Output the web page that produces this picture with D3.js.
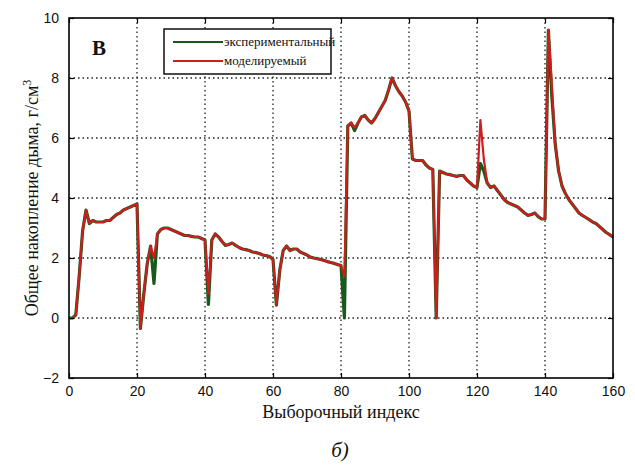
<!DOCTYPE html>
<html><head><meta charset="utf-8">
<script src="https://cdn.jsdelivr.net/npm/d3@7"></script>
<style>body{margin:0;background:#fff}svg{display:block}
.serif{font-family:"Liberation Serif","Times New Roman","DejaVu Serif",serif}
.sans{font-family:"Liberation Sans",Arial,Helvetica,sans-serif}
</style>
</head><body>
<script>
const sampleIndex = d3.range(0, 161);
const experimental = [
0,0,0.1,1.4,2.9,3.6,3.15,3.25,3.2,3.2,
3.2,3.25,3.25,3.35,3.45,3.5,3.6,3.65,3.7,3.75,
3.8,-0.35,0.8,1.8,2.4,1.15,2.8,2.95,3.0,3.0,
2.95,2.9,2.85,2.8,2.75,2.75,2.72,2.7,2.7,2.65,
2.6,0.45,2.6,2.8,2.7,2.55,2.42,2.45,2.5,2.42,
2.35,2.3,2.28,2.25,2.2,2.18,2.15,2.1,2.08,2.05,
1.95,0.43,1.6,2.25,2.4,2.25,2.3,2.3,2.2,2.15,
2.1,2.03,2.0,1.98,1.95,1.92,1.88,1.85,1.82,1.78,
1.75,0,6.4,6.5,6.25,6.5,6.7,6.75,6.6,6.5,
6.65,6.85,7.05,7.25,7.6,8.0,7.75,7.55,7.4,7.2,
6.9,5.3,5.25,5.25,5.25,5.1,5.0,4.95,0,4.9,
4.85,4.8,4.78,4.75,4.72,4.75,4.75,4.6,4.5,4.4,
4.35,5.15,4.9,4.5,4.35,4.4,4.25,4.1,3.95,3.85,
3.8,3.75,3.7,3.6,3.5,3.42,3.45,3.5,3.38,3.3,
3.3,9.6,7.4,5.8,4.9,4.4,4.15,3.95,3.8,3.65,
3.5,3.42,3.35,3.28,3.2,3.15,3.05,2.95,2.85,2.78,
2.7];
const modeled = [
0,0,0.1,1.4,2.9,3.6,3.15,3.25,3.2,3.2,
3.2,3.25,3.25,3.35,3.45,3.5,3.6,3.65,3.7,3.75,
3.8,-0.35,0.8,1.8,2.4,2.0,2.8,2.95,3.0,3.0,
2.95,2.9,2.85,2.8,2.75,2.75,2.72,2.7,2.7,2.65,
2.6,0.8,2.6,2.8,2.7,2.55,2.42,2.45,2.5,2.42,
2.35,2.3,2.28,2.25,2.2,2.18,2.15,2.1,2.08,2.05,
1.95,0.45,1.6,2.25,2.4,2.25,2.3,2.3,2.2,2.15,
2.1,2.03,2.0,1.98,1.95,1.92,1.88,1.85,1.82,1.78,
1.75,1.4,6.4,6.5,6.35,6.5,6.7,6.75,6.6,6.5,
6.65,6.85,7.05,7.25,7.6,8.0,7.75,7.55,7.4,7.2,
6.9,5.3,5.25,5.25,5.25,5.1,5.0,4.95,0,4.9,
4.85,4.8,4.78,4.75,4.72,4.75,4.75,4.6,4.5,4.4,
4.35,6.6,5.3,4.5,4.35,4.4,4.25,4.1,3.95,3.85,
3.8,3.75,3.7,3.6,3.5,3.42,3.45,3.5,3.38,3.3,
3.3,9.6,7.8,5.8,4.9,4.4,4.15,3.95,3.8,3.65,
3.5,3.42,3.35,3.28,3.2,3.15,3.05,2.95,2.85,2.78,
2.7];
const xTicks = [0,20,40,60,80,100,120,140,160];
const yTicks = [-2,0,2,4,6,8,10];
const seriesNames = ["экспериментальный","моделируемый"];
const seriesColors = ["#175a1c","#d01c1c"];

const W = 635, H = 465;
const m = {l:69, t:18, r:613, b:378};
const svg = d3.select("body").append("svg").attr("width",W).attr("height",H);
const x = d3.scaleLinear().domain([0,160]).range([m.l,m.r]);
const y = d3.scaleLinear().domain([-2,10]).range([m.b,m.t]);

// grid
const g = svg.append("g");
g.selectAll(".gx").data(xTicks.slice(1,-1)).join("line")
 .attr("x1",d=>x(d)).attr("x2",d=>x(d)).attr("y1",m.t).attr("y2",m.b)
 .attr("stroke","#222").attr("stroke-width",1.3).attr("stroke-dasharray","1.5,3");
g.selectAll(".gy").data(yTicks.slice(1,-1)).join("line")
 .attr("y1",d=>y(d)).attr("y2",d=>y(d)).attr("x1",m.l).attr("x2",m.r)
 .attr("stroke","#222").attr("stroke-width",1.3).attr("stroke-dasharray","1.5,3");

// lines
const line = (vals) => d3.line().x((d,i)=>x(sampleIndex[i])).y(d=>y(d))(vals);
svg.append("path").attr("d",line(experimental)).attr("fill","none")
 .attr("stroke",seriesColors[0]).attr("stroke-width",3.2).attr("stroke-linejoin","round");
svg.append("path").attr("d",line(modeled)).attr("fill","none")
 .attr("stroke",seriesColors[1]).attr("stroke-width",2.2).attr("stroke-linejoin","round");

// axes (inward ticks on all sides)
const xb = d3.axisBottom(x).tickValues(xTicks).tickSize(-5).tickPadding(8);
const xt = d3.axisTop(x).tickValues(xTicks).tickSize(-5).tickFormat("");
const yl = d3.axisLeft(y).tickValues(yTicks).tickSize(-5).tickPadding(10);
const yr = d3.axisRight(y).tickValues(yTicks).tickSize(-5).tickFormat("");
function style(sel){sel.attr("font-family",null).attr("font-size",null).attr("class","sans");
 sel.select(".domain").remove();sel.selectAll("line").attr("stroke","#000").attr("stroke-width",1.2);
 sel.selectAll("text").attr("fill","#111").style("font-size","14px");}
svg.append("g").attr("transform",`translate(0,${m.b})`).call(xb).call(style);
svg.append("g").attr("transform",`translate(0,${m.t})`).call(xt).call(style);
svg.append("g").attr("transform",`translate(${m.l},0)`).call(yl).call(style);
svg.append("g").attr("transform",`translate(${m.r},0)`).call(yr).call(style);
svg.append("rect").attr("x",m.l).attr("y",m.t).attr("width",m.r-m.l).attr("height",m.b-m.t)
 .attr("fill","none").attr("stroke","#000").attr("stroke-width",1.6);

// panel letter
svg.append("text").attr("class","serif").attr("x",92).attr("y",55).text("В")
 .style("font-weight","bold").style("font-size","21px").attr("fill","#111");

// legend
const lg = svg.append("g");
lg.append("rect").attr("x",164).attr("y",29).attr("width",167).attr("height",45)
 .attr("fill","#fff").attr("stroke","#111").attr("stroke-width",1.5);
seriesNames.forEach((n,i)=>{
  const yy = 42 + i*19;
  lg.append("line").attr("x1",173).attr("x2",223).attr("y1",yy).attr("y2",yy)
    .attr("stroke",seriesColors[i]).attr("stroke-width",2.2);
  lg.append("text").attr("class","serif").attr("x",224).attr("y",yy+4).text(n)
    .style("font-size","13px").attr("fill","#111");
});

// axis labels
const yLab = svg.append("text").attr("class","serif").attr("transform","translate(38,198) rotate(-90)")
 .attr("text-anchor","middle").style("font-size","18px").attr("fill","#111");
yLab.append("tspan").text("Общее накопление дыма, г/см");
yLab.append("tspan").style("font-size","12px").attr("dy",-7).text("3");
svg.append("text").attr("class","serif").attr("x",341).attr("y",418).attr("text-anchor","middle")
 .style("font-size","18px").attr("fill","#111").text("Выборочный индекс");
svg.append("text").attr("class","serif").attr("x",340).attr("y",457).attr("text-anchor","middle")
 .style("font-style","italic").style("font-size","21px").attr("fill","#111").text("б)");
</script>
</body></html>
